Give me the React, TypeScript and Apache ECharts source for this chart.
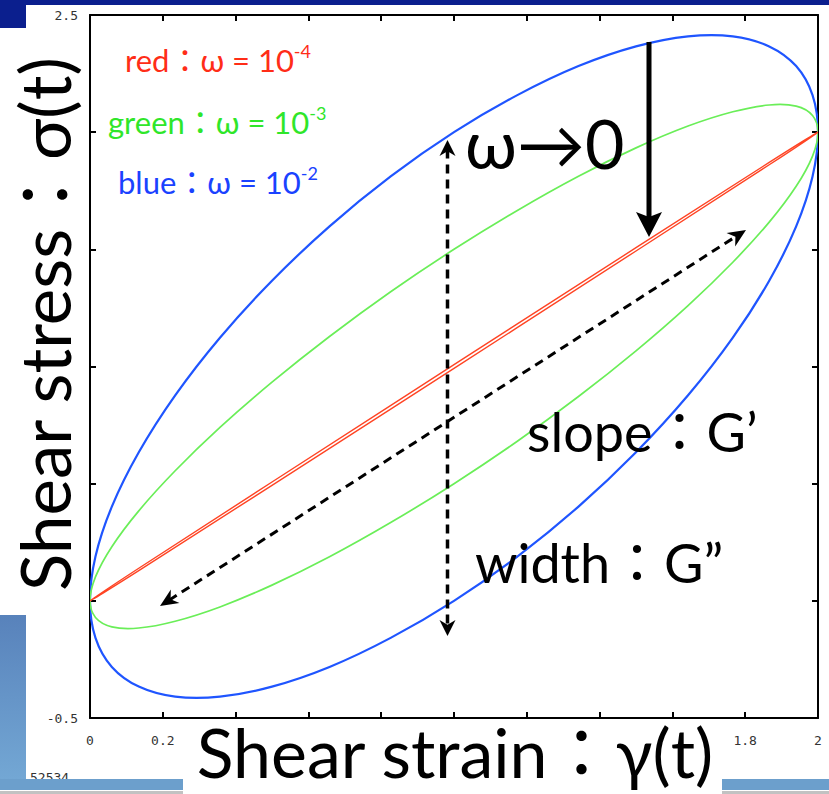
import React, { useEffect, useRef } from "react";
import * as echarts from "echarts";

// Axis ranges (strain γ on x, stress σ on y)
const strainRange = [0, 2];
const strainStep = 0.2;
const stressRange = [-0.5, 2.5];
const stressStep = 0.5;

// Tick labels left uncovered by the axis-title panels
const strainTickLabels = ["0", "0.2", "1.8", "2"];
const stressTickLabels = ["-0.5", "2.5"];

// Lissajous loops: [strain, stress] around one cycle (closed: last point = first)
const blueLoop: [number, number][] = [
  [1, 2], [1.174, 2.158], [1.342, 2.282], [1.5, 2.366], [1.643, 2.409], [1.766, 2.409],
  [1.866, 2.366], [1.94, 2.282], [1.985, 2.158], [2, 2], [1.985, 1.811], [1.94, 1.598],
  [1.866, 1.366], [1.766, 1.123], [1.643, 0.877], [1.5, 0.634], [1.342, 0.402], [1.174, 0.189],
  [1, 0], [0.826, -0.158], [0.658, -0.282], [0.5, -0.366], [0.357, -0.409], [0.234, -0.409],
  [0.134, -0.366], [0.06, -0.282], [0.015, -0.158], [0, 0], [0.015, 0.189], [0.06, 0.402],
  [0.134, 0.634], [0.234, 0.877], [0.357, 1.123], [0.5, 1.366], [0.658, 1.598], [0.826, 1.811],
  [1, 2],
];

const greenLoop: [number, number][] = [
  [1, 1.5], [1.174, 1.666], [1.342, 1.812], [1.5, 1.933], [1.643, 2.026], [1.766, 2.087],
  [1.866, 2.116], [1.94, 2.111], [1.985, 2.071], [2, 2], [1.985, 1.898], [1.94, 1.769],
  [1.866, 1.616], [1.766, 1.445], [1.643, 1.26], [1.5, 1.067], [1.342, 0.872], [1.174, 0.681],
  [1, 0.5], [0.826, 0.334], [0.658, 0.188], [0.5, 0.067], [0.357, -0.026], [0.234, -0.087],
  [0.134, -0.116], [0.06, -0.111], [0.015, -0.071], [0, 0], [0.015, 0.102], [0.06, 0.231],
  [0.134, 0.384], [0.234, 0.555], [0.357, 0.74], [0.5, 0.933], [0.658, 1.128], [0.826, 1.319],
  [1, 1.5],
];

const redLoop: [number, number][] = [
  [1, 1.008], [1.5, 1.507], [1.866, 1.871], [2, 2], [1.866, 1.861], [1.5, 1.493], [1, 0.992],
  [0.5, 0.493], [0.134, 0.129], [0, 0], [0.134, 0.139], [0.5, 0.507], [1, 1.008],
];

const legendNames = ["red", "green", "blue"];
const legendExponents = ["-4", "-3", "-2"];
const legendColors = ["#ff2d17", "#2fe62a", "#1a42ff"];
const lineColors = ["#ff4424", "#6aee58", "#1f55ff"];

const FONT = "Lato, 'Open Sans', 'Noto Sans', 'Noto Sans CJK JP', sans-serif";
const MONO = "'DejaVu Sans Mono', 'Liberation Mono', monospace";

type Pt = [number, number];

// Closed Catmull-Rom spline through pixel points, as SVG path data
function closedSpline(pts: Pt[]): string {
  const n = pts.length;
  const f = (v: number) => v.toFixed(2);
  let d = `M${f(pts[0][0])},${f(pts[0][1])}`;
  for (let i = 0; i < n; i++) {
    const p0 = pts[(i - 1 + n) % n];
    const p1 = pts[i];
    const p2 = pts[(i + 1) % n];
    const p3 = pts[(i + 2) % n];
    const c1x = p1[0] + (p2[0] - p0[0]) / 6;
    const c1y = p1[1] + (p2[1] - p0[1]) / 6;
    const c2x = p2[0] - (p3[0] - p1[0]) / 6;
    const c2y = p2[1] - (p3[1] - p1[1]) / 6;
    d += ` C${f(c1x)},${f(c1y)} ${f(c2x)},${f(c2y)} ${f(p2[0])},${f(p2[1])}`;
  }
  return d + " Z";
}

function loopSeries(name: string, points: Pt[], color: string, width: number, z: number) {
  return {
    type: "custom",
    name,
    coordinateSystem: "cartesian2d",
    clip: true,
    z,
    data: points,
    renderItem: (params: any, api: any) => {
      if (params.dataIndex !== 0) return null;
      const px = points.slice(0, -1).map((p) => api.coord(p) as Pt);
      return {
        type: "path",
        shape: { pathData: closedSpline(px) },
        style: { fill: "none", stroke: color, lineWidth: width },
      };
    },
  };
}

// Concave arrow head polygon pointing at `tip`, coming from `from`
function arrowHead(tip: Pt, from: Pt, len: number, half: number, notch = 0.7): Pt[] {
  const dx = tip[0] - from[0];
  const dy = tip[1] - from[1];
  const d = Math.hypot(dx, dy);
  const ux = dx / d, uy = dy / d;
  const nx = -uy, ny = ux;
  const bx = tip[0] - ux * len, by = tip[1] - uy * len;
  return [
    tip,
    [bx + nx * half, by + ny * half],
    [tip[0] - ux * len * notch, tip[1] - uy * len * notch],
    [bx - nx * half, by - ny * half],
  ];
}

function back(tip: Pt, from: Pt, dist: number): Pt {
  const dx = tip[0] - from[0];
  const dy = tip[1] - from[1];
  const d = Math.hypot(dx, dy);
  return [tip[0] - (dx / d) * dist, tip[1] - (dy / d) * dist];
}

function doubleArrow(a: Pt, b: Pt, width: number, len: number, half: number) {
  const s = back(a, b, len * 0.6);
  const e = back(b, a, len * 0.6);
  return [
    {
      type: "line",
      z: 50,
      shape: { x1: s[0], y1: s[1], x2: e[0], y2: e[1] },
      style: { stroke: "#000", lineWidth: width, lineDash: [9, 6] },
    },
    { type: "polygon", z: 51, shape: { points: arrowHead(a, b, len, half) }, style: { fill: "#000" } },
    { type: "polygon", z: 51, shape: { points: arrowHead(b, a, len, half) }, style: { fill: "#000" } },
  ];
}

export default function App() {
  const ref = useRef<HTMLDivElement>(null);

  useEffect(() => {
    if (!ref.current) return;
    const chart = echarts.init(ref.current, undefined, { renderer: "svg" });

    const fmt = (v: number) => String(Number(v.toFixed(1)));
    const pick = (labels: string[]) => (v: number) => (labels.includes(fmt(v)) ? fmt(v) : "");

    const axisLine = { show: true, onZero: false, lineStyle: { color: "#000", width: 2 } };
    const axisTick = { show: true, inside: true, length: 6, lineStyle: { color: "#000", width: 2 } };

    const baseX = {
      type: "value" as const,
      min: strainRange[0],
      max: strainRange[1],
      interval: strainStep,
      axisLine,
      axisTick,
      splitLine: { show: false },
    };
    const baseY = {
      type: "value" as const,
      min: stressRange[0],
      max: stressRange[1],
      interval: stressStep,
      axisLine,
      axisTick,
      splitLine: { show: false },
    };

    const legend = legendNames.map((n, i) => ({
      type: "text",
      z: 60,
      x: [125, 108, 118][i],
      y: [60, 122, 182][i],
      style: {
        text: `{a|${n}：ω = 10}{s|${legendExponents[i]}}`,
        textVerticalAlign: "middle",
        rich: {
          a: { fontSize: 31, fontFamily: FONT, fill: legendColors[i], color: legendColors[i], lineHeight: 36 },
          s: {
            fontSize: 18, fontFamily: FONT, fill: legendColors[i], color: legendColors[i],
            lineHeight: 36, verticalAlign: "top", padding: [0, 0, 13, 0],
          },
        },
      },
    }));

    const option = {
      animation: false,
      backgroundColor: "#fff",
      grid: { left: 90, top: 15, right: 11, bottom: 76, containLabel: false },
      xAxis: [
        {
          ...baseX,
          position: "bottom",
          axisLabel: { formatter: pick(strainTickLabels), fontFamily: MONO, fontSize: 13, color: "#333", margin: 16 },
        },
        { ...baseX, position: "top", axisLabel: { show: false } },
      ],
      yAxis: [
        {
          ...baseY,
          position: "left",
          axisLabel: { formatter: pick(stressTickLabels), fontFamily: MONO, fontSize: 13, color: "#333", margin: 12 },
        },
        { ...baseY, position: "right", axisLabel: { show: false } },
      ],
      series: [
        loopSeries("blue", blueLoop, lineColors[2], 2.2, 3),
        loopSeries("green", greenLoop, lineColors[1], 1.7, 3),
        loopSeries("red", redLoop, lineColors[0], 1.4, 4),
      ],
      graphic: [
        // slide decorations
        { type: "rect", z: 90, shape: { x: 0, y: 0, width: 829, height: 5 }, style: { fill: "#0b1f8e" } },
        { type: "rect", z: 90, shape: { x: 0, y: 0, width: 26, height: 62 }, style: { fill: "#0b1f8e" } },
        {
          type: "rect", z: 90, shape: { x: 0, y: 615, width: 26, height: 164 },
          style: {
            fill: new echarts.graphic.LinearGradient(0, 0, 0, 1, [
              { offset: 0, color: "#5882bb" },
              { offset: 1, color: "#73a7d4" },
            ]),
          },
        },
        {
          type: "text", z: 89, x: 30, y: 777,
          style: { text: "52534", fontFamily: MONO, fontSize: 13, fill: "#333", textVerticalAlign: "middle" },
        },
        { type: "rect", z: 90, shape: { x: 0, y: 779, width: 829, height: 11 }, style: { fill: "#6c9fcc" } },
        { type: "rect", z: 90, shape: { x: 0, y: 791, width: 829, height: 3 }, style: { fill: "#c2c2c2" } },

        // axis titles on white panels
        { type: "rect", z: 95, shape: { x: 0, y: 28, width: 87, height: 584 }, style: { fill: "#fff" } },
        { type: "rect", z: 95, shape: { x: 183, y: 721, width: 539, height: 73 }, style: { fill: "#fff" } },
        {
          type: "text", z: 96, x: 455, y: 751,
          style: {
            text: "Shear strain：γ(t)", fontFamily: FONT, fontSize: 68, fill: "#000",
            textAlign: "center", textVerticalAlign: "middle",
          },
        },
        {
          type: "text", z: 96, x: 44, y: 324, rotation: Math.PI / 2,
          style: {
            text: "Shear stress：σ(t)", fontFamily: FONT, fontSize: 69, fill: "#000",
            textAlign: "center", textVerticalAlign: "middle",
          },
        },

        // annotations
        {
          type: "text", z: 60, x: 465, y: 142,
          style: { text: "ω→0", fontFamily: FONT, fontSize: 68, fill: "#000", textVerticalAlign: "middle" },
        },
        {
          type: "text", z: 60, x: 527, y: 431,
          style: { text: "slope：G’", fontFamily: FONT, fontSize: 54, fill: "#000", textVerticalAlign: "middle" },
        },
        {
          type: "text", z: 60, x: 475, y: 562,
          style: { text: "width：G”", fontFamily: FONT, fontSize: 54, fill: "#000", textVerticalAlign: "middle" },
        },
        ...legend,
        ...doubleArrow([447.5, 140], [447.5, 636], 3.5, 16, 8),
        ...doubleArrow([160, 606], [746, 230], 3, 18, 8),
        {
          type: "line", z: 50, shape: { x1: 649, y1: 42, x2: 649, y2: 222 },
          style: { stroke: "#000", lineWidth: 5 },
        },
        {
          type: "polygon", z: 51, shape: { points: arrowHead([649, 237], [649, 42], 25, 13, 0.8) },
          style: { fill: "#000" },
        },
      ],
    };

    chart.setOption(option as any);
    return () => chart.dispose();
  }, []);

  return (
    <div
      ref={ref}
      style={{ position: "fixed", left: 0, top: 0, width: 829, height: 794, background: "#fff" }}
    />
  );
}
